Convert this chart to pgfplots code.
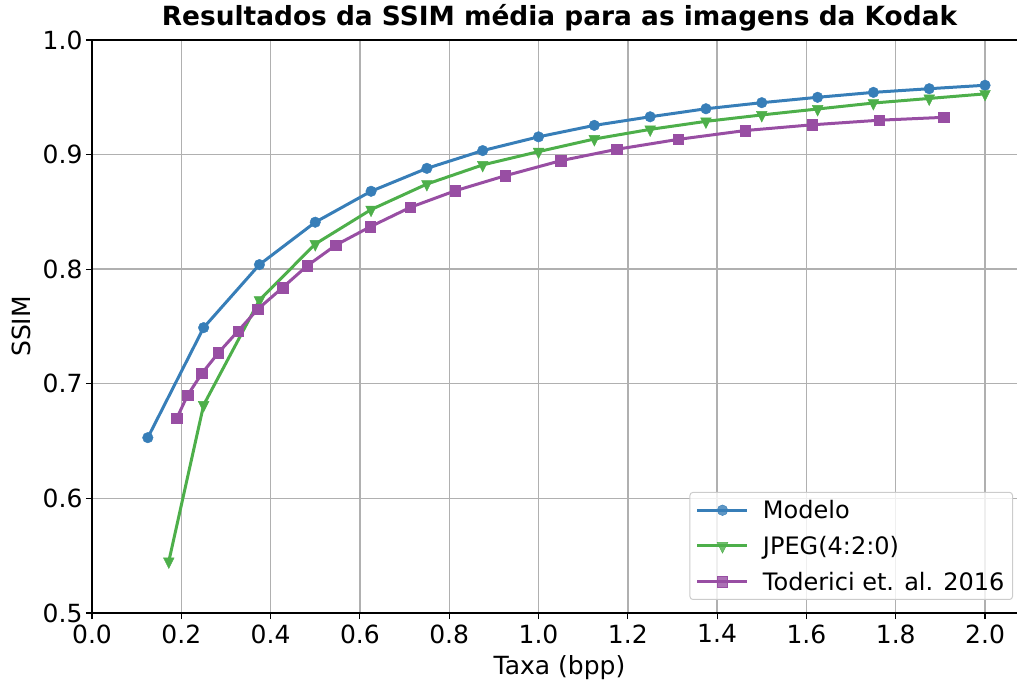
\documentclass[border=0pt]{standalone}
\usepackage{pgfplots}
\pgfplotsset{compat=1.18}
\usepackage{fontspec}
\setmainfont{DejaVu Sans}
\definecolor{cblue}{HTML}{377EB8}
\definecolor{cgreen}{HTML}{4DAF4A}
\definecolor{cpurple}{HTML}{984EA3}
\definecolor{gridgray}{HTML}{B0B0B0}
\begin{document}
\begin{tikzpicture}
\begin{axis}[
  at={(0,0)}, anchor=south west,
  scale only axis, width=925bp, height=573bp,
  xmin=0, xmax=2.0716, ymin=0.5, ymax=1.0,
  axis x line*=box, axis y line*=left,
  xtick={0,0.2,0.4,0.6,0.8,1.0,1.2,1.4,1.6,1.8,2.0},
  ytick={0.5,0.6,0.7,0.8,0.9,1.0},
  /pgf/number format/assume math mode=true,
  xticklabel style={/pgf/number format/fixed,/pgf/number format/fixed zerofill,/pgf/number format/precision=1, yshift=-2bp},
  yticklabel style={/pgf/number format/fixed,/pgf/number format/fixed zerofill,/pgf/number format/precision=1},
  tick label style={font=\fontsize{25bp}{30bp}\selectfont},
  label style={font=\fontsize{25bp}{30bp}\selectfont},
  title style={font=\fontsize{26.4bp}{31bp}\selectfont\bfseries, at={(axis description cs:0.5054,1.0157)}, anchor=base},
  title={Resultados da SSIM média para as imagens da Kodak},
  xlabel={Taxa (bpp)}, ylabel={SSIM},
  xlabel style={at={(axis description cs:0.5054,-0.1082)}, anchor=base},
  ylabel style={at={(axis description cs:-0.0768,0.5)}, anchor=center, rotate=0},
  grid=major, grid style={color=gridgray, line width=1.4bp},
  axis line style={line width=1.1bp, black},
  tick align=outside, xtick pos=bottom, ytick pos=left, major tick length=6bp,
  major tick style={black, line width=1.1bp},
  legend cell align=left,
  legend style={at={(axis cs:2.0716,0.5)}, anchor=south east, xshift=-4bp, yshift=13bp,
    rounded corners=3bp, draw=black!20, line width=1bp,
    fill=white, fill opacity=0.8, draw opacity=1, text opacity=1,
    font=\fontsize{24bp}{29bp}\selectfont, row sep=12bp, column sep=12bp,
    inner sep=6bp},
  legend image code/.code={\draw[mark repeat=2,mark phase=2,#1] plot coordinates {(0bp,0bp)(25bp,0bp)(50bp,0bp)};},
]
\addplot[cblue, line width=3bp, mark=*, mark size=5.3bp, mark options={solid, line width=0.4bp}] coordinates {
(0.125,0.653)(0.25,0.749)(0.375,0.804)(0.5,0.841)(0.625,0.868)(0.75,0.888)(0.875,0.9035)(1.0,0.9155)(1.125,0.9255)(1.25,0.933)(1.375,0.940)(1.5,0.9453)(1.625,0.950)(1.75,0.9543)(1.875,0.9575)(2.0,0.9605)};
\addlegendentry{Modelo}
\addplot[cgreen, line width=3bp, mark=triangle*, mark size=6.2bp, mark options={solid, rotate=180, yscale=1.15, line width=0.4bp}] coordinates {
(0.172,0.545)(0.25,0.6815)(0.375,0.773)(0.5,0.822)(0.625,0.852)(0.75,0.8743)(0.875,0.891)(1.0,0.9026)(1.125,0.9136)(1.25,0.922)(1.375,0.929)(1.5,0.9346)(1.625,0.9398)(1.75,0.945)(1.875,0.949)(2.0,0.953)};
\addlegendentry{JPEG(4:2:0)}
\addplot[cpurple, line width=3bp, mark=square*, mark size=5.2bp, mark options={solid, line width=0.4bp}] coordinates {
(0.190,0.670)(0.214,0.690)(0.246,0.709)(0.283,0.727)(0.327,0.746)(0.371,0.765)(0.427,0.784)(0.482,0.803)(0.546,0.821)(0.623,0.837)(0.713,0.854)(0.814,0.8685)(0.926,0.8816)(1.050,0.8947)(1.175,0.9046)(1.313,0.9133)(1.463,0.921)(1.613,0.926)(1.763,0.930)(1.907,0.9325)};
\addlegendentry{Toderici et. al. 2016}
\end{axis}
\pgfresetboundingbox
\path (-92bp,-71bp) rectangle (925bp,613bp);
\end{tikzpicture}
\end{document}
